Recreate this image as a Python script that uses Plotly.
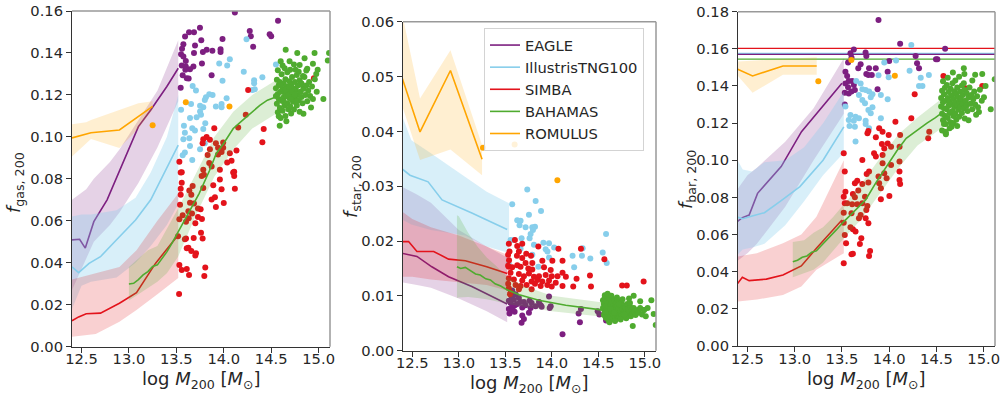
import plotly.graph_objects as go

# ------------------------------------------------------------------ colours
C_EAGLE = "#7d1f80"
C_TNG = "#87ceeb"
C_SIMBA = "#e3131b"
C_BAH = "#4fab2f"
C_ROM = "#ffa500"
NAMES = ["EAGLE", "IllustrisTNG100", "SIMBA", "BAHAMAS", "ROMULUS"]

# ================================================================= PANEL 1: f_gas
EAGLE_gas_x = [12.40, 12.48, 12.54, 12.63, 12.77, 12.86, 13.00, 13.10, 13.23, 13.40, 13.52]
EAGLE_gas_y = [0.0509, 0.0512, 0.047, 0.0596, 0.070, 0.0795, 0.0938, 0.1049, 0.1128, 0.124, 0.1327]
EAGLE_gas_bx = [12.40, 12.55, 12.63, 12.80, 12.90, 13.10, 13.30, 13.52]
EAGLE_gas_hi = [0.070, 0.075, 0.080, 0.088, 0.094, 0.108, 0.122, 0.146]
EAGLE_gas_lo = [0.027, 0.042, 0.050, 0.058, 0.064, 0.078, 0.095, 0.117]

TNG_gas_x = [12.40, 12.47, 12.58, 12.70, 12.85, 13.07, 13.23, 13.40, 13.52]
TNG_gas_y = [0.038, 0.0353, 0.0397, 0.0429, 0.050, 0.0604, 0.070, 0.085, 0.0961]
TNG_gas_bx = [12.40, 12.50, 12.60, 12.87, 13.07, 13.23, 13.40, 13.52]
TNG_gas_hi = [0.062, 0.063, 0.063, 0.065, 0.071, 0.083, 0.100, 0.120]
TNG_gas_lo = [0.018, 0.029, 0.031, 0.033, 0.040, 0.048, 0.058, 0.068]

SIMBA_gas_x = [12.40, 12.47, 12.55, 12.70, 12.90, 13.08, 13.28, 13.52]
SIMBA_gas_y = [0.0124, 0.0142, 0.0157, 0.016, 0.0207, 0.0257, 0.0397, 0.0532]
SIMBA_gas_bx = [12.40, 12.65, 12.90, 13.08, 13.30, 13.52]
SIMBA_gas_hi = [0.032, 0.035, 0.038, 0.046, 0.060, 0.073]
SIMBA_gas_lo = [0.0048, 0.006, 0.0119, 0.0175, 0.025, 0.0327]

BAH_gas_x = [13.00, 13.05, 13.10, 13.15, 13.20, 13.25, 13.30, 13.35, 13.40, 13.45, 13.52,
             13.60, 13.74, 13.85, 13.92, 14.00, 14.10, 14.20, 14.30, 14.38, 14.46, 14.55]
BAH_gas_y = [0.0299, 0.0302, 0.0320, 0.0342, 0.0358, 0.0382, 0.0390, 0.0420, 0.0452, 0.0490, 0.0548,
             0.062, 0.073, 0.084, 0.092, 0.097, 0.104, 0.108, 0.112, 0.115, 0.1175, 0.119]
BAH_gas_bx = [13.00, 13.10, 13.20, 13.30, 13.40, 13.52, 13.70, 13.90, 14.10, 14.30, 14.55]
BAH_gas_hi = [0.038, 0.042, 0.046, 0.048, 0.056, 0.066, 0.082, 0.100, 0.112, 0.120, 0.127]
BAH_gas_lo = [0.022, 0.025, 0.028, 0.031, 0.035, 0.043, 0.062, 0.081, 0.094, 0.104, 0.111]

ROM_gas_x = [12.40, 12.60, 12.90, 13.25]
ROM_gas_y = [0.0995, 0.102, 0.1033, 0.1145]
ROM_gas_bx = [12.40, 12.55, 12.60, 12.90, 13.10, 13.25]
ROM_gas_hi = [0.106, 0.107, 0.108, 0.113, 0.116, 0.117]
ROM_gas_lo = [0.0906, 0.097, 0.099, 0.0947, 0.104, 0.113]

EAGLE_gas_pts = [(14.117, .1593), (14.572, .1554), (13.634, .1499), (13.686, .1499), (13.749, .152),
                 (14.274, .1505), (14.285, .148), (14.484, .1489), (14.50, .148), (13.592, .1478),
                 (13.763, .146), (13.987, .1467), (13.574, .1442), (13.697, .1435), (14.31, .143),
                 (13.56, .142), (13.82, .1415), (13.88, .141), (13.966, .1418), (13.966, .1404),
                 (13.78, .1404), (13.686, .14), (13.55, .1394), (13.574, .1383), (13.60, .1362),
                 (13.77, .135), (13.557, .134), (13.68, .1335), (13.644, .1322), (13.595, .132),
                 (13.567, .1294), (13.872, .1294), (13.61, .128), (13.63, .1278), (13.546, .1234),
                 (13.60, .1335)]
TNG_gas_pts = [(14.24, .1465), (13.952, .135), (14.064, .137), (14.036, .134), (14.211, .1311),
               (14.407, .1284), (14.32, .127), (14.32, .1256), (13.987, .1267), (14.327, .1227),
               (14.302, .1224), (13.672, .1243), (13.707, .1221), (13.847, .1203), (13.882, .12),
               (13.812, .1189), (14.03, .1184), (13.80, .1176), (13.655, .1157), (13.75, .1148),
               (13.784, .1141), (13.917, .1145), (13.977, .1157), (13.977, .1141), (13.55, .1129),
               (13.75, .1121), (13.76, .1105), (13.714, .1094), (13.644, .109), (13.805, .1065),
               (13.58, .1053), (13.668, .1041), (13.696, .103), (13.784, .1037), (13.59, .102),
               (13.637, .0994), (13.574, .0989), (13.644, .0957), (13.59, .0925), (13.75, .0941),
               (13.668, .089), (13.567, .0913), (13.80, .097), (14.55, .1345)]
SIMBA_gas_pts = [(14.257, .1224), (14.232, .1105), (13.90, .1041), (14.152, .1045), (14.421, .1037),
                 (13.819, .100), (13.784, .0989), (13.854, .0986), (13.917, .097), (13.994, .0973),
                 (14.407, .0975), (13.777, .097), (13.94, .0948), (13.994, .0948), (13.854, .0941),
                 (13.977, .0928), (14.134, .0935), (14.064, .0922), (13.83, .0914), (13.94, .0916),
                 (13.532, .0882), (14.082, .0886), (14.036, .0878), (13.847, .0875), (13.872, .0859),
                 (13.784, .0843), (13.557, .0832), (13.959, .0843), (14.099, .083), (14.11, .0834),
                 (14.11, .0813), (13.546, .083), (13.767, .0813), (13.791, .082), (13.959, .0797),
                 (13.889, .077), (13.672, .0766), (13.557, .0782), (14.117, .0753), (13.977, .0751),
                 (13.546, .0753), (13.784, .0756), (13.637, .0744), (13.658, .0724), (13.546, .0724),
                 (13.872, .0702), (13.907, .0712), (13.539, .0677), (13.644, .0686), (13.686, .0683),
                 (14.0, .0685), (13.917, .0666), (13.728, .0659), (13.756, .0655), (13.567, .0626),
                 (13.627, .0645), (13.665, .0635), (13.532, .0607), (13.63, .0612), (13.728, .0618),
                 (13.77, .0609), (13.70, .0588), (13.602, .0596), (13.76, .0543), (13.777, .0516),
                 (13.518, .0527), (13.602, .0516), (13.59, .0512), (13.683, .0518), (13.627, .0472),
                 (13.61, .0469), (13.658, .0456), (13.707, .0445), (13.70, .0435), (13.532, .0389),
                 (13.557, .0365), (13.61, .037), (13.805, .0378), (13.634, .0342), (13.795, .0337),
                 (13.529, .0251), (14.95, .128)]
BAH_gas_pts = [(14.55, .1195), (14.55, .1232), (14.56, .1158), (14.56, .1272), (14.57, .1205), (14.57, .1118),
               (14.58, .1247), (14.58, .1180), (14.59, .1138), (14.59, .1262), (14.60, .1215), (14.60, .1090),
               (14.61, .1172), (14.61, .1298), (14.62, .1228), (14.62, .1125), (14.63, .1188), (14.63, .1255),
               (14.64, .1150), (14.64, .1212), (14.65, .1275), (14.65, .1100), (14.66, .1195), (14.66, .1240),
               (14.67, .1160), (14.67, .1308), (14.68, .1222), (14.68, .1132), (14.69, .1185), (14.69, .1265),
               (14.70, .1205), (14.70, .1145), (14.71, .1248), (14.71, .1112), (14.72, .1190), (14.72, .1285),
               (14.73, .1232), (14.73, .1168), (14.74, .1210), (14.74, .1130), (14.75, .1262), (14.75, .1180),
               (14.76, .1225), (14.77, .1150), (14.77, .1295), (14.78, .1200), (14.78, .1245), (14.79, .1175),
               (14.80, .1270), (14.80, .1120), (14.81, .1215), (14.82, .1190), (14.82, .1255), (14.83, .1160),
               (14.84, .1230), (14.85, .1285), (14.86, .1200), (14.87, .1245), (14.88, .1170), (14.89, .1220),
               (14.90, .1262), (14.91, .1195), (14.93, .1240), (14.94, .1180), (14.96, .1275), (14.98, .1215),
               (14.57, .1318), (14.58, .1098), (14.62, .1340), (14.66, .1075), (14.70, .1320), (14.74, .1345),
               (14.79, .1310), (14.84, .1110), (14.88, .1325), (14.92, .1140), (14.63, .1170), (14.68, .1198),
               (14.72, .1215), (14.76, .1170), (14.60, .1245), (14.65, .1225), (14.69, .1238), (14.71, .1180),
               (14.75, .1202), (14.81, .1250), (14.653, .1415), (14.775, .1400), (14.957, .1400), (14.852, .1375),
               (14.60, .1360), (14.694, .1360), (14.80, .1343), (14.94, .1348), (15.097, .1364), (14.642, .1327),
               (14.757, .1320), (14.87, .1316), (14.99, .1320), (15.05, .1180), (14.59, .1053), (14.975, .1300),
               (14.835, .1290), (15.11, .1400)]
ROM_gas_pts = [(13.25, .1055), (13.60, .1165), (14.06, .1145)]

# ================================================================= PANEL 2: f_star
EAGLE_star_x = [12.38, 12.55, 12.71, 12.89, 13.14, 13.52]
EAGLE_star_y = [0.0178, 0.0172, 0.0153, 0.0135, 0.0117, 0.0085]
EAGLE_star_bx = [12.38, 12.55, 12.70, 13.00, 13.30, 13.52]
EAGLE_star_hi = [0.030, 0.0285, 0.027, 0.022, 0.019, 0.017]
EAGLE_star_lo = [0.0125, 0.012, 0.0115, 0.0095, 0.0072, 0.0052]

TNG_star_x = [12.38, 12.475, 12.67, 12.82, 13.14, 13.52]
TNG_star_y = [0.0333, 0.032, 0.0308, 0.0275, 0.0251, 0.0221]
TNG_star_bx = [12.38, 12.49, 12.70, 13.07, 13.30, 13.54]
TNG_star_hi = [0.0433, 0.0384, 0.036, 0.0317, 0.029, 0.0269]
TNG_star_lo = [0.024, 0.023, 0.022, 0.021, 0.019, 0.0178]

SIMBA_star_x = [12.38, 12.46, 12.55, 12.73, 12.89, 13.07, 13.30, 13.52]
SIMBA_star_y = [0.0199, 0.0199, 0.0181, 0.0181, 0.0167, 0.0164, 0.0153, 0.0141]
SIMBA_star_bx = [12.38, 12.50, 12.70, 13.00, 13.30, 13.52]
SIMBA_star_hi = [0.0255, 0.024, 0.0225, 0.021, 0.019, 0.0175]
SIMBA_star_lo = [0.0135, 0.0135, 0.013, 0.0125, 0.012, 0.011]

BAH_star_x = [12.98, 13.02, 13.07, 13.12, 13.18, 13.23, 13.29, 13.34, 13.39, 13.45, 13.52,
              13.65, 13.86, 14.15, 14.35, 14.55]
BAH_star_y = [0.0153, 0.0150, 0.0152, 0.0146, 0.0140, 0.0138, 0.0131, 0.0129, 0.0122, 0.0118, 0.0111,
              0.0102, 0.0092, 0.0083, 0.0079, 0.0074]
BAH_star_bx = [12.98, 13.00, 13.10, 13.20, 13.30, 13.40, 13.52, 13.70, 14.00, 14.30, 14.55]
BAH_star_hi = [0.0247, 0.0245, 0.0215, 0.019, 0.017, 0.0155, 0.0135, 0.0118, 0.0100, 0.0093, 0.0088]
BAH_star_lo = [0.0096, 0.0097, 0.0098, 0.0096, 0.0094, 0.0090, 0.0085, 0.0080, 0.0072, 0.0066, 0.0062]

ROM_star_x = [12.384, 12.583, 12.91, 13.25]
ROM_star_y = [0.0501, 0.0399, 0.0511, 0.0349]
ROM_star_bx = [12.384, 12.583, 12.91, 13.25]
ROM_star_hi = [0.062, 0.046, 0.0548, 0.0375]
ROM_star_lo = [0.045, 0.0348, 0.0367, 0.032]

EAGLE_star_pts = [(13.574, .011), (13.61, .0103), (13.567, .0099), (13.646, .0096), (13.592, .0093),
                  (13.538, .0091), (13.70, .0089), (13.761, .0091), (13.97, .0099), (13.556, .0087),
                  (13.628, .0085), (13.664, .0089), (13.718, .0083), (13.783, .0087), (13.862, .0089),
                  (13.88, .0083), (13.603, .0083), (13.826, .0081), (13.891, .008), (13.988, .0081),
                  (13.574, .0079), (13.772, .0078), (13.682, .0079), (13.977, .0078), (13.538, .0076),
                  (13.581, .0074), (14.313, .0076), (14.288, .0068), (14.493, .0072), (14.511, .0066),
                  (13.682, .0064), (13.754, .0069), (14.583, .0055), (14.302, .0052), (14.115, .0030),
                  (13.675, .0051), (13.70, .0058), (13.545, .0068), (13.60, .0071)]
TNG_star_pts = [(13.736, .0294), (13.574, .0267), (13.826, .0273), (13.884, .0255), (13.754, .0248),
                (13.628, .0238), (13.664, .0237), (13.653, .0229), (13.718, .0225), (13.79, .0225),
                (13.819, .0226), (13.797, .0220), (13.772, .0213), (13.761, .0205), (13.592, .0202),
                (13.675, .0205), (14.583, .0213), (13.909, .0197), (13.97, .0196), (13.808, .0193),
                (13.664, .0186), (14.025, .0188), (13.934, .0185), (14.331, .0187), (13.953, .0181),
                (13.79, .0175), (14.223, .0173), (14.324, .0173), (14.414, .0168), (14.547, .0179),
                (13.97, .0170), (13.855, .0153), (14.24, .0152), (14.59, .0160), (13.538, .0158),
                (13.556, .0202)]
SIMBA_star_pts = [(13.603, .0202), (13.538, .0195), (13.628, .0191), (13.682, .0195), (13.855, .0190),
                  (14.071, .0186), (13.545, .0181), (13.646, .0181), (13.725, .0177), (13.776, .0173),
                  (13.625, .0173), (14.313, .0186), (14.006, .0164), (14.115, .0164), (14.565, .0167),
                  (13.682, .0169), (13.718, .0160), (13.79, .0160), (13.898, .0164), (13.538, .0153),
                  (13.574, .0152), (13.628, .0156), (13.664, .0153), (13.747, .0150), (13.79, .0148),
                  (13.916, .0152), (13.988, .0147), (14.115, .0142), (14.151, .0135), (13.556, .0142),
                  (13.646, .014), (13.70, .0136), (13.754, .0141), (13.808, .0135), (13.862, .0136),
                  (13.934, .0138), (13.999, .0136), (14.061, .0136), (14.41, .0137), (13.538, .0132),
                  (13.592, .013), (13.682, .0128), (13.783, .0126), (13.844, .0129), (13.898, .0126),
                  (13.97, .0128), (14.042, .0124), (14.266, .0131), (13.531, .0122), (13.61, .0120),
                  (13.664, .0118), (13.729, .012), (13.819, .0122), (13.88, .0118), (13.952, .012),
                  (13.999, .0117), (14.115, .0118), (14.23, .0117), (14.421, .0117), (14.756, .0119),
                  (14.806, .0119), (14.987, .0126), (13.538, .0114), (13.646, .0112), (13.783, .0112),
                  (13.556, .0106), (13.53, .0175), (13.54, .0165), (13.53, .0155), (13.55, .0103)]
BAH_star_pts = [(14.55, .0078), (14.55, .0092), (14.56, .0065), (14.56, .0085), (14.57, .0071), (14.57, .0098),
                (14.58, .0060), (14.58, .0082), (14.59, .0075), (14.59, .0090), (14.60, .0068), (14.60, .0086),
                (14.61, .0055), (14.61, .0079), (14.62, .0072), (14.62, .0095), (14.63, .0063), (14.63, .0083),
                (14.64, .0070), (14.64, .0089), (14.65, .0076), (14.65, .0058), (14.66, .0066), (14.66, .0081),
                (14.67, .0073), (14.67, .0093), (14.68, .0062), (14.68, .0078), (14.69, .0070), (14.69, .0086),
                (14.70, .0065), (14.70, .0080), (14.71, .0074), (14.71, .0091), (14.72, .0060), (14.72, .0077),
                (14.73, .0069), (14.73, .0084), (14.74, .0073), (14.75, .0064), (14.75, .0088), (14.76, .0076),
                (14.77, .0068), (14.77, .0082), (14.78, .0072), (14.79, .0061), (14.79, .0079), (14.80, .0070),
                (14.81, .0085), (14.82, .0066), (14.82, .0076), (14.83, .0072), (14.84, .0080), (14.85, .0063),
                (14.86, .0074), (14.87, .0068), (14.88, .0078), (14.89, .0071), (14.90, .0065), (14.92, .0074),
                (14.93, .0069), (14.95, .0078), (14.97, .0066), (14.99, .0074), (14.57, .0101), (14.60, .0104),
                (14.64, .0100), (14.70, .0097), (14.76, .0094), (14.62, .0052), (14.68, .0054), (14.74, .0057),
                (14.80, .0059), (14.58, .0071), (14.63, .0076), (14.67, .0069), (14.72, .0085), (14.78, .0066),
                (14.84, .0087), (14.88, .0100), (15.07, .0092), (15.095, .0067), (15.117, .0047), (14.87, .0045),
                (14.99, .0074), (15.03, .0078), (14.95, .0090), (14.83, .0095), (15.01, .0063)]
ROM_star_pts = [(13.26, .037), (13.60, .0376), (14.06, .0311)]

# ================================================================= PANEL 3: f_bar
EAGLE_bar_x = [12.375, 12.446, 12.518, 12.607, 12.857, 13.072, 13.50]
EAGLE_bar_y = [0.0664, 0.0691, 0.0705, 0.0822, 0.0966, 0.1154, 0.1415]
EAGLE_bar_bx = [12.375, 12.50, 12.60, 12.90, 13.20, 13.52]
EAGLE_bar_hi = [0.083, 0.092, 0.096, 0.110, 0.128, 0.155]
EAGLE_bar_lo = [0.045, 0.050, 0.055, 0.075, 0.100, 0.125]

TNG_bar_x = [12.375, 12.45, 12.55, 12.68, 12.85, 13.055, 13.30, 13.52]
TNG_bar_y = [0.0696, 0.0685, 0.070, 0.0718, 0.078, 0.0858, 0.100, 0.118]
TNG_bar_bx = [12.375, 12.45, 12.55, 12.68, 12.90, 13.10, 13.30, 13.52]
TNG_bar_hi = [0.102, 0.095, 0.094, 0.099, 0.100, 0.107, 0.120, 0.137]
TNG_bar_lo = [0.048, 0.052, 0.053, 0.055, 0.065, 0.078, 0.092, 0.104]

SIMBA_bar_x = [12.375, 12.446, 12.518, 12.70, 12.876, 13.07, 13.23, 13.50]
SIMBA_bar_y = [0.0323, 0.037, 0.0352, 0.036, 0.0382, 0.0431, 0.0526, 0.0678]
SIMBA_bar_bx = [12.375, 12.60, 12.876, 13.07, 13.23, 13.52]
SIMBA_bar_hi = [0.048, 0.050, 0.0553, 0.060, 0.0696, 0.100]
SIMBA_bar_lo = [0.0239, 0.025, 0.0275, 0.032, 0.041, 0.050]

BAH_bar_x = [12.98, 13.03, 13.08, 13.13, 13.18, 13.23, 13.28, 13.33, 13.38, 13.44, 13.52, 13.62,
             13.75, 13.86, 13.97, 14.08, 14.18, 14.29, 14.40, 14.49, 14.575]
BAH_bar_y = [0.0454, 0.0462, 0.0478, 0.0485, 0.0505, 0.0512, 0.0540, 0.0565, 0.0590, 0.0625, 0.067, 0.072,
             0.0786, 0.088, 0.0966, 0.105, 0.1118, 0.116, 0.120, 0.123, 0.1262]
BAH_bar_bx = [12.98, 13.10, 13.20, 13.30, 13.40, 13.52, 13.70, 13.90, 14.10, 14.30, 14.575]
BAH_bar_hi = [0.056, 0.057, 0.061, 0.064, 0.069, 0.076, 0.087, 0.101, 0.114, 0.123, 0.134]
BAH_bar_lo = [0.037, 0.039, 0.041, 0.045, 0.051, 0.058, 0.068, 0.082, 0.096, 0.108, 0.118]

ROM_bar_x = [12.375, 12.554, 12.876, 13.233]
ROM_bar_y = [0.1495, 0.1454, 0.1508, 0.1508]
ROM_bar_bx = [12.375, 12.554, 12.876, 13.233]
ROM_bar_hi = [0.1531, 0.1535, 0.1545, 0.1555]
ROM_bar_lo = [0.1468, 0.1364, 0.146, 0.146]

# cosmic baryon fractions (horizontal lines)
FB_X = [12.3, 15.2]
FB_TNG = 0.1575
FB_EAGLE = 0.1570
FB_SIMBA = 0.1603
FB_BAH = 0.1545

EAGLE_bar_pts = [(13.887, .1755), (14.116, .1628), (13.626, .1597), (14.592, .1601), (13.59, .1576),
                 (13.75, .158), (14.28, .1562), (13.601, .1553), (13.758, .1562), (14.0, .1535),
                 (14.495, .1544), (14.51, .1544), (13.698, .1517), (14.295, .1522), (13.565, .1526),
                 (13.673, .1495), (13.787, .1495), (13.858, .1495), (13.758, .1465), (13.816, .1459),
                 (13.984, .1477), (14.316, .1495), (13.537, .1477), (13.555, .1454), (13.572, .1427),
                 (13.608, .1427), (13.537, .1414), (13.626, .1405), (13.565, .1393), (13.601, .137),
                 (13.637, .1378), (13.877, .1382), (13.53, .1364), (13.572, .136), (13.78, .1459),
                 (13.53, .130)]
TNG_bar_pts = [(14.234, .1621), (13.948, .1526), (14.073, .1537), (14.216, .1482), (14.42, .1459),
               (14.334, .1445), (14.316, .14), (14.352, .14), (13.887, .1458), (13.995, .1447),
               (13.651, .1427), (13.698, .1414), (13.716, .1382), (13.751, .1378), (13.787, .137),
               (13.823, .1355), (13.68, .1352), (13.805, .1339), (13.912, .1352), (13.984, .1328),
               (13.716, .1325), (13.744, .1307), (13.823, .1285), (13.78, .1271), (13.59, .1244),
               (13.644, .1235), (13.68, .1226), (13.805, .1253), (13.912, .1226), (13.572, .1217),
               (13.626, .1213), (13.751, .1213), (13.58, .1185), (13.751, .1196), (13.787, .1172),
               (13.637, .1181), (13.644, .1101), (13.537, .1289)]
SIMBA_bar_pts = [(14.574, .1454), (14.806, .1388), (14.985, .1400), (14.27, .1355), (14.066, .1208),
                 (14.234, .1226), (14.424, .1154), (14.413, .1118), (13.78, .1158), (13.77, .1145),
                 (13.894, .1172), (13.93, .1154), (14.116, .1136), (13.995, .1136), (13.859, .1124),
                 (13.923, .1088), (13.984, .109), (14.02, .1073), (13.948, .1063), (14.11, .1073),
                 (13.519, .1038), (13.84, .1038), (13.859, .102), (13.93, .1029), (13.716, .1002),
                 (14.109, .0993), (14.02, .0975), (13.93, .0984), (13.787, .0939), (13.53, .0939),
                 (13.762, .0926), (14.109, .0939), (13.948, .0930), (13.973, .0903), (13.887, .0912),
                 (14.109, .0894), (14.116, .0872), (13.894, .0876), (13.662, .089), (13.637, .0876),
                 (13.716, .0872), (13.78, .0880), (13.912, .0849), (13.673, .0837), (13.537, .0831),
                 (13.616, .0819), (13.744, .0804), (13.637, .0801), (13.519, .0804), (14.002, .0808),
                 (13.912, .0790), (13.53, .0768), (13.555, .0768), (13.608, .0763), (13.662, .0763),
                 (13.716, .0768), (13.769, .0754), (13.758, .0732), (13.519, .0718), (13.601, .0715),
                 (13.698, .0706), (13.68, .0688), (13.751, .0688), (13.78, .0661), (13.519, .0664),
                 (13.59, .0639), (13.616, .0628), (13.644, .0616), (13.53, .0598), (13.705, .058),
                 (13.544, .0553), (13.69, .0549), (13.798, .0512), (13.787, .0485), (13.601, .0494),
                 (13.616, .0497), (13.519, .0445)]
BAH_bar_pts = [(14.55, .1290), (14.55, .1335), (14.56, .1250), (14.56, .1375), (14.57, .1312), (14.57, .1215),
               (14.58, .1355), (14.58, .1280), (14.59, .1240), (14.59, .1390), (14.60, .1320), (14.60, .1195),
               (14.61, .1275), (14.61, .1405), (14.62, .1335), (14.62, .1228), (14.63, .1295), (14.63, .1368),
               (14.64, .1255), (14.64, .1318), (14.65, .1385), (14.65, .1205), (14.66, .1300), (14.66, .1348),
               (14.67, .1265), (14.67, .1415), (14.68, .1330), (14.68, .1238), (14.69, .1290), (14.69, .1372),
               (14.70, .1310), (14.70, .1250), (14.71, .1355), (14.71, .1218), (14.72, .1296), (14.72, .1392),
               (14.73, .1340), (14.73, .1272), (14.74, .1318), (14.74, .1235), (14.75, .1370), (14.75, .1285),
               (14.76, .1330), (14.77, .1255), (14.77, .1402), (14.78, .1305), (14.78, .1352), (14.79, .1280),
               (14.80, .1378), (14.80, .1225), (14.81, .1320), (14.82, .1295), (14.82, .1362), (14.83, .1265),
               (14.84, .1338), (14.85, .1392), (14.86, .1305), (14.87, .1352), (14.88, .1275), (14.89, .1328),
               (14.90, .1370), (14.91, .1300), (14.93, .1345), (14.94, .1285), (14.96, .1380), (14.98, .1320),
               (14.57, .1425), (14.58, .1195), (14.62, .1445), (14.66, .1180), (14.70, .1430), (14.74, .1450),
               (14.79, .1415), (14.84, .1215), (14.88, .1430), (14.92, .1245), (14.56, .1160), (14.60, .1150),
               (14.64, .1172), (14.68, .1200), (14.72, .1185), (14.674, .1472), (14.796, .1465), (14.79, .1495),
               (14.985, .1465), (15.117, .1436), (15.075, .1275), (15.003, .1339), (14.592, .1154), (14.60, .1140),
               (14.91, .1460), (15.02, .1400), (14.95, .1260)]
ROM_bar_pts = [(13.25, .1425), (13.60, .154), (14.06, .1455)]

# ------------------------------------------------------------------ layout constants
W, H = 1008, 398
FONT = "DejaVu Sans"
TXT = "#262626"
X_RANGE = [12.4, 15.12]
PANELS = [  # (x px left, x px right, y px top, y px bottom)
    (72, 330, 11, 346.7),
    (403, 656, 21.7, 350.7),
    (738, 995, 11.7, 346),
]
Y_RANGES = [[0, 0.16], [0, 0.06], [0, 0.18]]
Y_DTICK = [0.02, 0.01, 0.02]
Y_TITLES = ["<i>f</i><sub>gas, 200</sub>", "<i>f</i><sub>star, 200</sub>", "<i>f</i><sub>bar, 200</sub>"]
YT_POS = [(15, 183), (352, 187), (687, 180)]
XT_Y = [380, 384, 380]
X_TITLE = "log <i>M</i><sub>200</sub> [<i>M</i><sub>⊙</sub>]"


def rgba(hexc, a):
    h = hexc.lstrip("#")
    return "rgba(%d,%d,%d,%.3f)" % (int(h[0:2], 16), int(h[2:4], 16), int(h[4:6], 16), a)


fig = go.Figure()

SIMS = [
    ("EAGLE", C_EAGLE, 0.20),
    ("IllustrisTNG100", C_TNG, 0.32),
    ("SIMBA", C_SIMBA, 0.20),
    ("BAHAMAS", C_BAH, 0.20),
    ("ROMULUS", C_ROM, 0.18),
]

DATA = [
    [
        (EAGLE_gas_x, EAGLE_gas_y, EAGLE_gas_bx, EAGLE_gas_hi, EAGLE_gas_lo, EAGLE_gas_pts),
        (TNG_gas_x, TNG_gas_y, TNG_gas_bx, TNG_gas_hi, TNG_gas_lo, TNG_gas_pts),
        (SIMBA_gas_x, SIMBA_gas_y, SIMBA_gas_bx, SIMBA_gas_hi, SIMBA_gas_lo, SIMBA_gas_pts),
        (BAH_gas_x, BAH_gas_y, BAH_gas_bx, BAH_gas_hi, BAH_gas_lo, BAH_gas_pts),
        (ROM_gas_x, ROM_gas_y, ROM_gas_bx, ROM_gas_hi, ROM_gas_lo, ROM_gas_pts),
    ],
    [
        (EAGLE_star_x, EAGLE_star_y, EAGLE_star_bx, EAGLE_star_hi, EAGLE_star_lo, EAGLE_star_pts),
        (TNG_star_x, TNG_star_y, TNG_star_bx, TNG_star_hi, TNG_star_lo, TNG_star_pts),
        (SIMBA_star_x, SIMBA_star_y, SIMBA_star_bx, SIMBA_star_hi, SIMBA_star_lo, SIMBA_star_pts),
        (BAH_star_x, BAH_star_y, BAH_star_bx, BAH_star_hi, BAH_star_lo, BAH_star_pts),
        (ROM_star_x, ROM_star_y, ROM_star_bx, ROM_star_hi, ROM_star_lo, ROM_star_pts),
    ],
    [
        (EAGLE_bar_x, EAGLE_bar_y, EAGLE_bar_bx, EAGLE_bar_hi, EAGLE_bar_lo, EAGLE_bar_pts),
        (TNG_bar_x, TNG_bar_y, TNG_bar_bx, TNG_bar_hi, TNG_bar_lo, TNG_bar_pts),
        (SIMBA_bar_x, SIMBA_bar_y, SIMBA_bar_bx, SIMBA_bar_hi, SIMBA_bar_lo, SIMBA_bar_pts),
        (BAH_bar_x, BAH_bar_y, BAH_bar_bx, BAH_bar_hi, BAH_bar_lo, BAH_bar_pts),
        (ROM_bar_x, ROM_bar_y, ROM_bar_bx, ROM_bar_hi, ROM_bar_lo, ROM_bar_pts),
    ],
]

for p in range(3):
    xa = "x" if p == 0 else "x%d" % (p + 1)
    ya = "y" if p == 0 else "y%d" % (p + 1)
    if p == 2:
        for val, col in [(FB_TNG, C_TNG), (FB_EAGLE, C_EAGLE), (FB_SIMBA, C_SIMBA), (FB_BAH, C_BAH)]:
            fig.add_trace(go.Scatter(x=FB_X, y=[val, val], mode="lines", xaxis=xa, yaxis=ya,
                                     line=dict(color=col, width=1.3), showlegend=False, hoverinfo="skip"))
    for s, (name, col, alpha) in enumerate(SIMS):
        lx, ly, bx, hi, lo, pts = DATA[p][s]
        fig.add_trace(go.Scatter(x=list(bx) + list(bx)[::-1], y=list(hi) + list(lo)[::-1],
                                 mode="lines", fill="toself", fillcolor=rgba(col, alpha),
                                 line=dict(width=0), xaxis=xa, yaxis=ya, showlegend=False,
                                 hoverinfo="skip"))
        fig.add_trace(go.Scatter(x=lx, y=ly, mode="lines", line=dict(color=col, width=1.6),
                                 xaxis=xa, yaxis=ya, name=name, legendgroup=name,
                                 showlegend=(p == 1)))
        fig.add_trace(go.Scatter(x=[q[0] for q in pts], y=[q[1] for q in pts], mode="markers",
                                 marker=dict(color=col, size=6, line=dict(width=0)),
                                 xaxis=xa, yaxis=ya, showlegend=False, cliponaxis=True))

layout = dict(
    template="none",
    width=W, height=H, margin=dict(l=0, r=0, t=0, b=0, pad=0, autoexpand=False),
    paper_bgcolor="white", plot_bgcolor="white",
    font=dict(family=FONT, size=14.7, color=TXT),
    showlegend=True,
    legend=dict(x=484 / W, y=1 - 28 / H, xanchor="left", yanchor="top",
                bgcolor="rgba(255,255,255,0.85)", bordercolor="#d3d3d3", borderwidth=1,
                font=dict(family=FONT, size=14.7, color=TXT), tracegroupgap=0,
                itemwidth=30),
)
annotations = []
shapes = []
for p, (x0, x1, yt, yb) in enumerate(PANELS):
    sfx = "" if p == 0 else str(p + 1)
    layout["xaxis" + sfx] = dict(
        domain=[x0 / W, x1 / W], range=X_RANGE, anchor="y" + sfx, automargin=False,
        tickmode="array", tickvals=[12.5, 13.0, 13.5, 14.0, 14.5, 15.0],
        ticktext=["12.5", "13.0", "13.5", "14.0", "14.5", "15.0"],
        ticks="outside", ticklen=5, tickwidth=1, tickcolor="#333333", ticklabelstandoff=-6,
        showline=True, linecolor="#333333", linewidth=1, showgrid=False, zeroline=False,
        tickfont=dict(family=FONT, size=14.7, color=TXT))
    layout["yaxis" + sfx] = dict(
        domain=[1 - yb / H, 1 - yt / H], range=Y_RANGES[p], anchor="x" + sfx, automargin=False,
        dtick=Y_DTICK[p], tick0=0, tickformat=".2f",
        ticks="outside", ticklen=5, tickwidth=1, tickcolor="#333333",
        showline=True, linecolor="#333333", linewidth=1, showgrid=False, zeroline=False,
        tickfont=dict(family=FONT, size=14.7, color=TXT))
    xr = "x" + sfx + " domain"
    yr = "y" + sfx + " domain"
    shapes.append(dict(type="line", xref=xr, yref=yr, x0=0, x1=1, y0=1, y1=1,
                       line=dict(color="#999999", width=1.5)))
    shapes.append(dict(type="line", xref=xr, yref=yr, x0=1, x1=1, y0=0, y1=1,
                       line=dict(color="#999999", width=1.5)))
    annotations.append(dict(text=X_TITLE, xref="paper", yref="paper",
                            x=(x0 + x1) / 2 / W, y=1 - XT_Y[p] / H, xanchor="center", yanchor="middle",
                            showarrow=False, font=dict(family=FONT, size=18, color=TXT)))
    tx, ty = YT_POS[p]
    annotations.append(dict(text=Y_TITLES[p], xref="paper", yref="paper", textangle=-90,
                            x=tx / W, y=1 - ty / H, xanchor="center", yanchor="middle",
                            showarrow=False, font=dict(family=FONT, size=18, color=TXT)))
layout["annotations"] = annotations
layout["shapes"] = shapes
fig.update_layout(**layout)
fig.write_html("out.html")
